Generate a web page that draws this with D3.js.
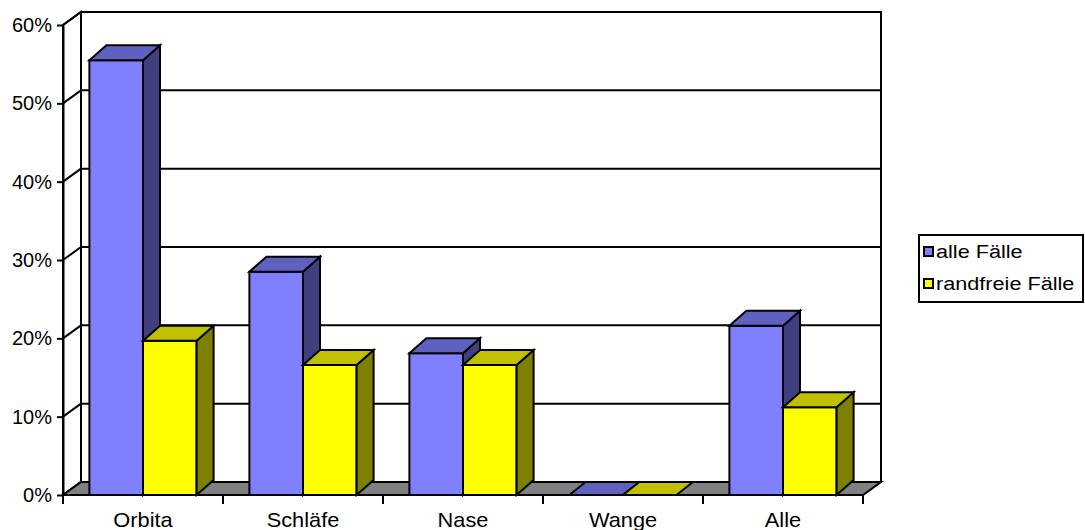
<!DOCTYPE html>
<html>
<head>
<meta charset="utf-8">
<script src="https://cdn.jsdelivr.net/npm/d3@7"></script>
<style>
  html, body { margin: 0; padding: 0; background: #ffffff; }
  svg { display: block; }
  text { font-family: "Liberation Sans", Arial, sans-serif; fill: #000; }
</style>
</head>
<body>
<svg id="chart" width="1085" height="530"></svg>
<script>
// Chart data
const categories = ["Orbita", "Schläfe", "Nase", "Wange", "Alle"];
const seriesNames = ["alle Fälle", "randfreie Fälle"];
const alleFaelle = [0.555, 0.285, 0.181, 0, 0.216];
const randfreieFaelle = [0.197, 0.166, 0.166, 0, 0.112];
const yTickValues = [0, 0.1, 0.2, 0.3, 0.4, 0.5, 0.6];

// Face colours per series: front, top, side
const seriesColors = [
  { front: "#8080ff", top: "#6060c0", side: "#404080" },
  { front: "#ffff00", top: "#c0c000", side: "#808000" }
];

const svg = d3.select("#chart");

// Plot frame (front plane) and 3D offsets
const plot = { left: 63, right: 863, top: 25, bottom: 495 };
const wall = { dx: 18, dy: -13 };   // depth of walls / floor
const col = { dx: 17, dy: -15 };    // depth of the columns

const y = d3.scaleLinear().domain([0, 0.6]).range([plot.bottom, plot.top]);
const x = d3.scaleBand().domain(categories).range([plot.left, plot.right])
  .paddingInner(0.33).paddingOuter(0.165);
const xs = d3.scaleBand().domain(seriesNames).range([0, x.bandwidth()]);

const ink = "#000";
const sw = 2;

// Back wall
const g = svg.append("g");
g.append("rect")
  .attr("x", plot.left + wall.dx).attr("y", plot.top + wall.dy)
  .attr("width", plot.right - plot.left).attr("height", plot.bottom - plot.top)
  .attr("fill", "#fff").attr("stroke", ink).attr("stroke-width", sw);

// Left side wall
g.append("path")
  .attr("d", `M${plot.left},${plot.bottom} L${plot.left},${plot.top} L${plot.left + wall.dx},${plot.top + wall.dy} L${plot.left + wall.dx},${plot.bottom + wall.dy} Z`)
  .attr("fill", "#fff").attr("stroke", ink).attr("stroke-width", sw);

// Gridlines on back wall and their continuation across the side wall
yTickValues.forEach(v => {
  const yy = y(v);
  g.append("line")
    .attr("x1", plot.left + wall.dx).attr("x2", plot.right + wall.dx)
    .attr("y1", yy + wall.dy).attr("y2", yy + wall.dy)
    .attr("stroke", ink).attr("stroke-width", sw);
  g.append("line")
    .attr("x1", plot.left).attr("x2", plot.left + wall.dx)
    .attr("y1", yy).attr("y2", yy + wall.dy)
    .attr("stroke", ink).attr("stroke-width", sw);
});

// Floor
g.append("path")
  .attr("d", `M${plot.left},${plot.bottom} L${plot.right},${plot.bottom} L${plot.right + wall.dx},${plot.bottom + wall.dy} L${plot.left + wall.dx},${plot.bottom + wall.dy} Z`)
  .attr("fill", "#808080").attr("stroke", ink).attr("stroke-width", sw);

// Columns: front face, right side, top face
const series = [alleFaelle, randfreieFaelle];
const bars = svg.append("g");
categories.forEach((cat, i) => {
  series.forEach((vals, s) => {
    const v = vals[i];
    const x0 = x(cat) + xs(seriesNames[s]);
    const w = xs.bandwidth();
    const yt = y(v), yb = y(0);
    const c = seriesColors[s];
    const dx = v > 0 ? col.dx : wall.dx * 0.9;
    const dy = v > 0 ? col.dy : wall.dy;
    const gb = bars.append("g")
      .attr("stroke", ink).attr("stroke-width", sw).attr("stroke-linejoin", "miter");
    if (yb - yt > 0) {
      gb.append("rect")
        .attr("x", x0).attr("y", yt).attr("width", w).attr("height", yb - yt)
        .attr("fill", c.front);
      gb.append("path")
        .attr("d", `M${x0 + w},${yt} L${x0 + w + dx},${yt + dy} L${x0 + w + dx},${yb + dy} L${x0 + w},${yb} Z`)
        .attr("fill", c.side);
    }
    gb.append("path")
      .attr("d", `M${x0},${yt} L${x0 + dx},${yt + dy} L${x0 + w + dx},${yt + dy} L${x0 + w},${yt} Z`)
      .attr("fill", c.top);
  });
});

// Y axis
const yAxis = svg.append("g")
  .attr("transform", `translate(${plot.left},0)`)
  .call(d3.axisLeft(y).tickValues(yTickValues).tickFormat(d3.format(".0%"))
    .tickSize(6).tickSizeOuter(0).tickPadding(5));
yAxis.selectAll("path, line").attr("stroke", ink).attr("stroke-width", sw);
yAxis.selectAll("text").attr("font-size", "20px").attr("fill", ink)
  .style("font-family", "'Liberation Sans', Arial, sans-serif");

// X axis: baseline, category separators, labels
const step = x.step();
const bounds = categories.map(c => x(c) - x.paddingOuter() * step);
bounds.push(plot.right);
svg.append("line")
  .attr("x1", plot.left).attr("x2", plot.right).attr("y1", plot.bottom).attr("y2", plot.bottom)
  .attr("stroke", ink).attr("stroke-width", sw);
svg.append("g").selectAll("line").data(bounds).join("line")
  .attr("x1", d => d).attr("x2", d => d)
  .attr("y1", plot.bottom).attr("y2", plot.bottom + 9)
  .attr("stroke", ink).attr("stroke-width", sw);
const xAxis = svg.append("g")
  .attr("transform", `translate(0,${plot.bottom})`)
  .call(d3.axisBottom(x).tickSize(0));
xAxis.select(".domain").remove();
xAxis.selectAll("text")
  .attr("y", 0).attr("dy", 0).attr("fill", ink)
  .attr("transform", "translate(0,32) scale(1.09,1)")
  .attr("font-size", "20px")
  .style("font-family", "'Liberation Sans', Arial, sans-serif");

// Legend
const legend = svg.append("g");
legend.append("rect")
  .attr("x", 919).attr("y", 235).attr("width", 164).attr("height", 67)
  .attr("fill", "#fff").attr("stroke", ink).attr("stroke-width", sw);
const items = legend.selectAll("g.item").data(seriesNames).join("g")
  .attr("class", "item")
  .attr("transform", (d, i) => `translate(924,${247 + i * 32})`);
items.append("rect")
  .attr("width", 9).attr("height", 9)
  .attr("fill", (d, i) => seriesColors[i].front)
  .attr("stroke", ink).attr("stroke-width", sw);
items.append("text")
  .attr("transform", "translate(12,11) scale(1.14,1)")
  .attr("font-size", "19px")
  .text(d => d);
</script>
</body>
</html>
